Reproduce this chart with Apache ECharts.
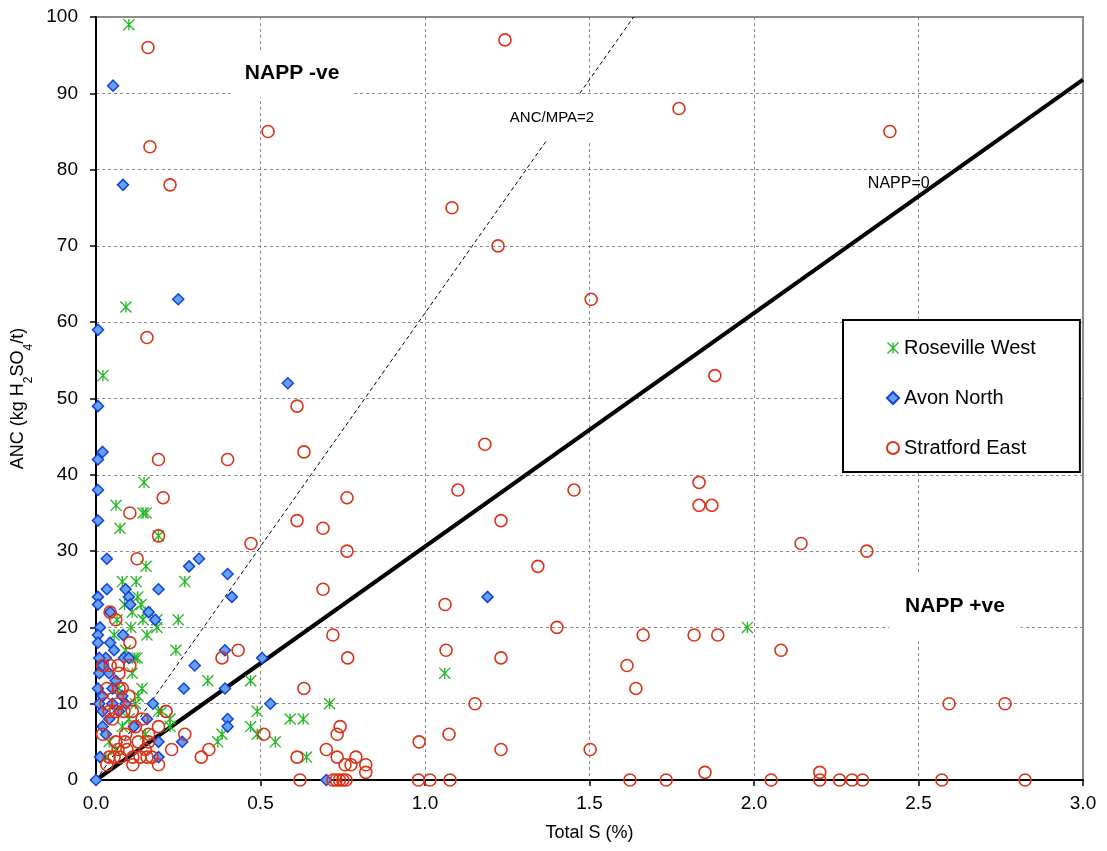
<!DOCTYPE html>
<html>
<head>
<meta charset="utf-8">
<script src="https://cdn.jsdelivr.net/npm/echarts@6/dist/echarts.min.js"></script>
<style>
html,body{margin:0;padding:0;background:#fff;}
#chart{width:1107px;height:851px;}
</style>
</head>
<body>
<div id="chart"></div>
<script>
// ---- Data (Total S %, ANC kg H2SO4/t) ----
const rosevilleWest = [
  [0.10,99],[0.091,62],[0.021,53],[0.146,39],[0.061,36],[0.143,35],[0.152,35],[0.073,33],[0.19,32],
  [0.152,28],[0.08,26],[0.122,26],[0.27,26],[0.127,24],[0.087,23],[0.137,23],[0.11,22],[0.15,22],
  [0.064,21],[0.143,21],[0.185,21],[0.25,21],[0.106,20],[0.185,20],[0.055,19],[0.155,19],[0.243,17],
  [0.118,16],[0.125,16],[0.128,11],[0.34,13],[0.47,13],[0.19,9],[0.225,8],[0.225,7],[0.49,9],[0.47,7],
  [0.49,6],[0.383,6],[0.37,5],[0.545,5],[0.59,8],[0.63,8],[0.71,10],[0.64,3],[1.06,14],[1.98,20],
  [0.04,5],[0.06,4],[0.08,7],[0.10,8],[0.12,10],[0.14,12],[0.15,6],[0.03,3],[0.20,9],[0.11,14],[0.09,17],[0.07,12]
];
const avonNorth = [
  [0.052,91],[0.082,78],[0.25,63],[0.006,59],[0.583,52],[0.006,49],[0.02,43],[0.006,42],[0.006,38],
  [0.006,34],[0.033,29],[0.033,25],[0.006,24],[0.006,23],[0.09,25],[0.10,24],[0.104,23],[0.19,25],
  [0.283,28],[0.313,29],[0.40,27],[0.413,24],[0.16,22],[0.18,21],[0.043,22],[0.012,20],[0.006,19],
  [0.006,18],[0.043,18],[0.055,17],[0.082,19],[0.085,16],[0.392,17],[0.30,15],[0.267,12],[0.392,12],
  [0.173,10],[0.155,8],[0.115,7],[0.40,8],[0.40,7],[0.262,5],[0.19,5],[0.19,3],[0,0],[0.02,9],
  [0.006,12],[0.02,11],[0.012,3],[0.505,16],[0.53,10],[0.70,0],[1.19,24],[0.01,14],[0.02,15],[0.03,16],
  [0.01,10],[0.04,8],[0.05,12],[0.06,13],[0.03,6],[0.07,9],[0.05,10],[0.02,7],[0.08,11],[0.01,16],
  [0.04,14],[0.10,16],[0.09,10]
];
const stratfordEast = [
  [0.158,96],[0.164,83],[0.225,78],[0.523,85],[1.243,97],[1.772,88],[2.413,85],[1.082,75],[1.222,70],
  [1.505,63],[0.155,58],[1.881,53],[0.611,49],[0.632,43],[0.40,42],[0.19,42],[1.182,44],[1.10,38],
  [1.453,38],[1.833,39],[1.833,36],[1.872,36],[0.204,37],[0.763,37],[0.103,35],[0.611,34],[1.231,34],
  [0.69,33],[0.471,31],[2.143,31],[2.343,30],[0.763,30],[0.19,32],[0.125,29],[1.343,28],[0.69,25],
  [1.061,23],[1.401,20],[0.72,19],[1.663,19],[1.818,19],[1.89,19],[1.614,15],[1.641,12],[2.082,17],
  [1.064,17],[0.765,16],[1.231,16],[0.383,16],[0.432,17],[0.632,12],[1.152,10],[2.593,10],[2.763,10],
  [1.073,6],[0.982,5],[1.502,4],[1.231,4],[1.851,1],[2.20,1],[0.79,3],[0.82,2],[0.82,1],[0.742,7],
  [0.733,6],[0.70,4],[0.733,3],[0.757,2],[0.775,2],[0.611,3],[0.62,0],[0.72,0],[0.73,0],[0.74,0],
  [0.75,0],[0.76,0],[0.98,0],[1.015,0],[1.076,0],[1.623,0],[1.733,0],[2.052,0],[2.20,0],[2.26,0],
  [2.298,0],[2.33,0],[2.571,0],[2.824,0],[0.51,6],
  [0.043,22],[0.06,21],[0.103,18],[0.02,15],[0.043,15],[0.067,15],[0.103,15],[0.07,14],[0.033,12],
  [0.07,12],[0.04,9],[0.06,9],[0.085,9],[0.067,10],[0.02,6],[0.09,6],[0.16,6],[0.19,7],[0.213,9],
  [0.27,6],[0.23,4],[0.32,3],[0.343,4],[0.033,2],[0.06,5],[0.067,4],[0.073,3],[0.094,4],[0.112,3],
  [0.134,3],[0.155,3],[0.112,2],[0.19,2],[0.128,5],[0.16,5],[0.15,4],[0.088,5],[0.055,3],[0.17,3],
  [0.03,10],[0.05,8],[0.08,12],[0.10,11],[0.12,7],[0.14,8],[0.11,9],[0.04,3]
];
// Reference lines: NAPP=0 (ANC = MPA = 30.6*S) and ANC/MPA=2
const nappZeroLine = [[0,0],[3.0,91.8]];
const ancMpa2Line = [[0,0],[1.634,100]];
// Annotations [S, ANC, text]
const annotations = [
  [0.596, 92.6, 'NAPP -ve'],
  [1.386, 86.8, 'ANC/MPA=2'],
  [2.44, 78.2, 'NAPP=0'],
  [2.611, 22.8, 'NAPP +ve']
];
const xTicks = [0, 0.5, 1.0, 1.5, 2.0, 2.5, 3.0];
const yTicks = [0,10,20,30,40,50,60,70,80,90,100];

const FONT = 'Liberation Sans, Arial, sans-serif';
const asteriskPath = 'path://M8.8,0L11.2,0L11.2,20L8.8,20Z' +
  'M0.85,-0.85L20.85,19.15L19.15,20.85L-0.85,0.85Z' +
  'M20.85,0.85L0.85,20.85L-0.85,19.15L19.15,-0.85Z';

const annotStyles = [
  {fontSize: 21, fontWeight: 'bold', padding: [13, 14], bg: '#fff'},
  {fontSize: 15, fontWeight: 'normal', padding: [16, 8], bg: '#fff'},
  {fontSize: 16, fontWeight: 'normal', padding: [2, 2], bg: 'transparent'},
  {fontSize: 21, fontWeight: 'bold', padding: [22, 16], bg: '#fff'}
];

const chart = echarts.init(document.getElementById('chart'), null, {renderer: 'canvas'});
chart.setOption({
  animation: false,
  backgroundColor: '#fff',
  textStyle: {fontFamily: FONT},
  grid: {left: 96, top: 17, right: 24, bottom: 71, show: true, borderColor: '#8c8c8c', borderWidth: 2,
    backgroundColor: 'transparent', outerBoundsMode: 'none', containLabel: false},
  legend: {
    orient: 'vertical', left: 843, top: 320,
    padding: [18, 44, 14, 43], itemGap: 30,
    itemWidth: 12, itemHeight: 12, itemTextGap: 3,
    borderColor: '#000', borderWidth: 2, backgroundColor: '#fff',
    textStyle: {fontSize: 20, color: '#000', fontFamily: FONT},
    data: ['Roseville West', 'Avon North', 'Stratford East']
  },
  xAxis: {
    type: 'value', min: 0, max: 3, interval: 0.5,
    name: 'Total S (%)', nameLocation: 'middle', nameGap: 44,
    nameTextStyle: {fontSize: 18, color: '#000', fontFamily: FONT},
    axisLine: {show: true, onZero: false, lineStyle: {color: '#000', width: 2}},
    axisTick: {show: true, inside: false, length: 6, lineStyle: {color: '#000', width: 1.5}},
    axisLabel: {fontSize: 19, color: '#000', margin: 14, fontFamily: FONT,
      formatter: v => xTicks.indexOf(v) >= 0 ? v.toFixed(1) : ''},
    splitLine: {show: true, lineStyle: {color: '#8a8a8a', width: 1, type: [3, 3]}}
  },
  yAxis: {
    type: 'value', min: 0, max: 100, interval: 10,
    name: '{a|ANC (kg H}{s|2}{a|SO}{s|4}{a|/t)}', nameLocation: 'middle', nameGap: 67,
    nameTextStyle: {
      color: '#000', fontFamily: FONT,
      rich: {
        a: {fontSize: 18, color: '#000', fontFamily: FONT, lineHeight: 22, verticalAlign: 'middle'},
        s: {fontSize: 12, color: '#000', fontFamily: FONT, lineHeight: 22, verticalAlign: 'bottom', padding: [0, 0, -6, 0]}
      }
    },
    axisLine: {show: true, onZero: false, lineStyle: {color: '#000', width: 2}},
    axisTick: {show: true, inside: false, length: 6, lineStyle: {color: '#000', width: 1.5}},
    axisLabel: {fontSize: 19, color: '#000', margin: 18, fontFamily: FONT,
      formatter: v => yTicks.indexOf(v) >= 0 ? String(v) : ''},
    splitLine: {show: true, lineStyle: {color: '#8a8a8a', width: 1, type: [3, 3]}}
  },
  series: [
    {
      name: 'ANC/MPA=2 line', type: 'line', data: ancMpa2Line, symbol: 'none', silent: true,
      lineStyle: {color: '#000', width: 1, type: [4, 3]}, z: 2
    },
    {
      name: 'NAPP=0 line', type: 'line', data: nappZeroLine, symbol: 'none', silent: true,
      lineStyle: {color: '#000', width: 4}, z: 2
    },
    {
      name: 'Roseville West', type: 'scatter', data: rosevilleWest,
      symbol: asteriskPath, symbolSize: 12,
      itemStyle: {color: '#22b822', borderWidth: 0, opacity: 1}, z: 3
    },
    {
      name: 'Avon North', type: 'scatter', data: avonNorth,
      symbol: 'diamond', symbolSize: 11,
      itemStyle: {color: '#62a3f7', borderColor: '#1640e0', borderWidth: 1.5, opacity: 1}, z: 4
    },
    {
      name: 'Stratford East', type: 'scatter', data: stratfordEast,
      symbol: 'circle', symbolSize: 12,
      itemStyle: {color: 'rgba(255,255,255,0)', borderColor: '#de3218', borderWidth: 1.6, opacity: 1}, z: 5
    },
    {
      name: 'annotations', type: 'scatter', silent: true, symbolSize: 0, z: 6,
      itemStyle: {opacity: 1},
      data: annotations.map((a, i) => ({
        value: [a[0], a[1]],
        label: {
          show: true, position: 'inside', formatter: a[2], color: '#000', opacity: 1,
          fontFamily: FONT, fontSize: annotStyles[i].fontSize, fontWeight: annotStyles[i].fontWeight,
          backgroundColor: annotStyles[i].bg, padding: annotStyles[i].padding
        }
      }))
    }
  ]
});
</script>
</body>
</html>
